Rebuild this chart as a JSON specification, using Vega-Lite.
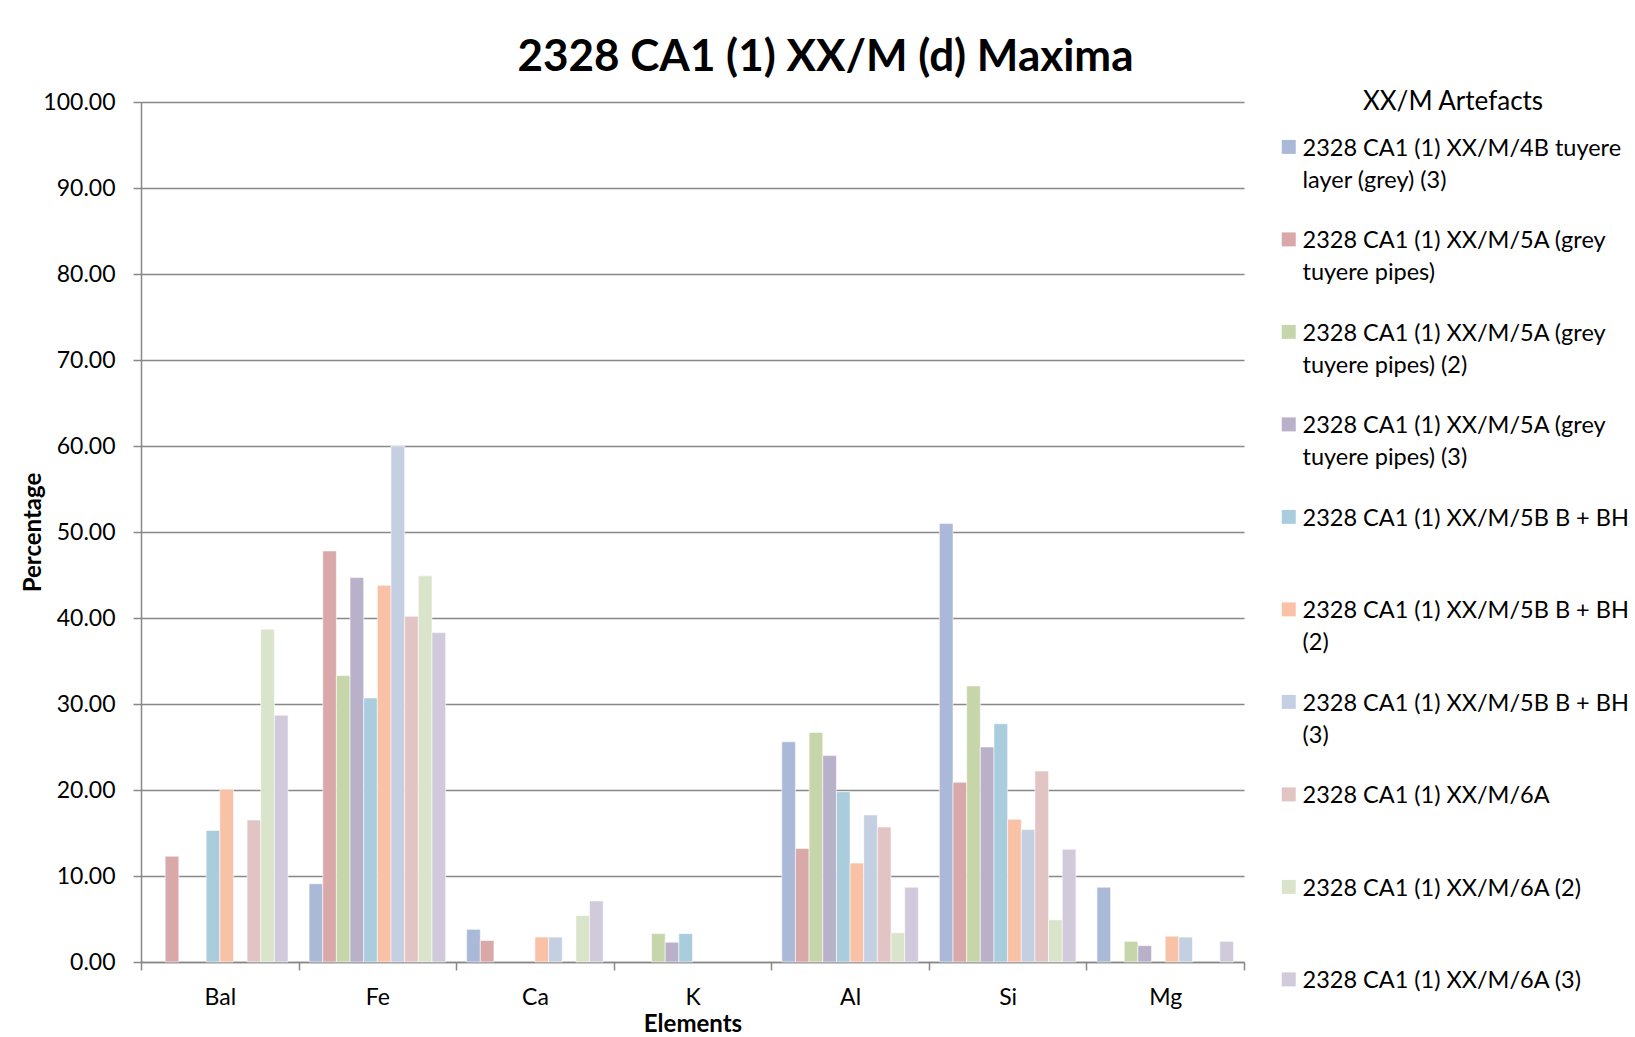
{
  "$schema": "https://vega.github.io/schema/vega-lite/v6.json",
  "autosize": "none",
  "width": 1103,
  "height": 860,
  "padding": {"left": 141, "top": 102, "right": 391, "bottom": 75},
  "background": "white",
  "title": {
    "text": "2328 CA1 (1) XX/M (d) Maxima",
    "font": "Lato",
    "fontSize": 44,
    "fontWeight": "bold",
    "color": "black",
    "anchor": "middle",
    "frame": "group",
    "dx": 133,
    "offset": 9
  },
  "data": {
    "values": [
      {"element": "Bal", "series": "2328 CA1 (1) XX/M/5A (grey tuyere pipes)", "value": 12.3},
      {"element": "Bal", "series": "2328 CA1 (1) XX/M/5B B + BH", "value": 15.3},
      {"element": "Bal", "series": "2328 CA1 (1) XX/M/5B B + BH (2)", "value": 20.1},
      {"element": "Bal", "series": "2328 CA1 (1) XX/M/6A", "value": 16.5},
      {"element": "Bal", "series": "2328 CA1 (1) XX/M/6A (2)", "value": 38.7},
      {"element": "Bal", "series": "2328 CA1 (1) XX/M/6A (3)", "value": 28.7},

      {"element": "Fe", "series": "2328 CA1 (1) XX/M/4B tuyere layer (grey) (3)", "value": 9.1},
      {"element": "Fe", "series": "2328 CA1 (1) XX/M/5A (grey tuyere pipes)", "value": 47.8},
      {"element": "Fe", "series": "2328 CA1 (1) XX/M/5A (grey tuyere pipes) (2)", "value": 33.3},
      {"element": "Fe", "series": "2328 CA1 (1) XX/M/5A (grey tuyere pipes) (3)", "value": 44.7},
      {"element": "Fe", "series": "2328 CA1 (1) XX/M/5B B + BH", "value": 30.7},
      {"element": "Fe", "series": "2328 CA1 (1) XX/M/5B B + BH (2)", "value": 43.8},
      {"element": "Fe", "series": "2328 CA1 (1) XX/M/5B B + BH (3)", "value": 60.0},
      {"element": "Fe", "series": "2328 CA1 (1) XX/M/6A", "value": 40.2},
      {"element": "Fe", "series": "2328 CA1 (1) XX/M/6A (2)", "value": 44.9},
      {"element": "Fe", "series": "2328 CA1 (1) XX/M/6A (3)", "value": 38.3},

      {"element": "Ca", "series": "2328 CA1 (1) XX/M/4B tuyere layer (grey) (3)", "value": 3.8},
      {"element": "Ca", "series": "2328 CA1 (1) XX/M/5A (grey tuyere pipes)", "value": 2.5},
      {"element": "Ca", "series": "2328 CA1 (1) XX/M/5B B + BH (2)", "value": 2.9},
      {"element": "Ca", "series": "2328 CA1 (1) XX/M/5B B + BH (3)", "value": 2.9},
      {"element": "Ca", "series": "2328 CA1 (1) XX/M/6A (2)", "value": 5.4},
      {"element": "Ca", "series": "2328 CA1 (1) XX/M/6A (3)", "value": 7.1},

      {"element": "K", "series": "2328 CA1 (1) XX/M/5A (grey tuyere pipes) (2)", "value": 3.3},
      {"element": "K", "series": "2328 CA1 (1) XX/M/5A (grey tuyere pipes) (3)", "value": 2.3},
      {"element": "K", "series": "2328 CA1 (1) XX/M/5B B + BH", "value": 3.3},

      {"element": "Al", "series": "2328 CA1 (1) XX/M/4B tuyere layer (grey) (3)", "value": 25.6},
      {"element": "Al", "series": "2328 CA1 (1) XX/M/5A (grey tuyere pipes)", "value": 13.2},
      {"element": "Al", "series": "2328 CA1 (1) XX/M/5A (grey tuyere pipes) (2)", "value": 26.7},
      {"element": "Al", "series": "2328 CA1 (1) XX/M/5A (grey tuyere pipes) (3)", "value": 24.0},
      {"element": "Al", "series": "2328 CA1 (1) XX/M/5B B + BH", "value": 19.8},
      {"element": "Al", "series": "2328 CA1 (1) XX/M/5B B + BH (2)", "value": 11.5},
      {"element": "Al", "series": "2328 CA1 (1) XX/M/5B B + BH (3)", "value": 17.1},
      {"element": "Al", "series": "2328 CA1 (1) XX/M/6A", "value": 15.7},
      {"element": "Al", "series": "2328 CA1 (1) XX/M/6A (2)", "value": 3.4},
      {"element": "Al", "series": "2328 CA1 (1) XX/M/6A (3)", "value": 8.7},

      {"element": "Si", "series": "2328 CA1 (1) XX/M/4B tuyere layer (grey) (3)", "value": 51.0},
      {"element": "Si", "series": "2328 CA1 (1) XX/M/5A (grey tuyere pipes)", "value": 20.9},
      {"element": "Si", "series": "2328 CA1 (1) XX/M/5A (grey tuyere pipes) (2)", "value": 32.1},
      {"element": "Si", "series": "2328 CA1 (1) XX/M/5A (grey tuyere pipes) (3)", "value": 25.0},
      {"element": "Si", "series": "2328 CA1 (1) XX/M/5B B + BH", "value": 27.7},
      {"element": "Si", "series": "2328 CA1 (1) XX/M/5B B + BH (2)", "value": 16.6},
      {"element": "Si", "series": "2328 CA1 (1) XX/M/5B B + BH (3)", "value": 15.4},
      {"element": "Si", "series": "2328 CA1 (1) XX/M/6A", "value": 22.2},
      {"element": "Si", "series": "2328 CA1 (1) XX/M/6A (2)", "value": 4.9},
      {"element": "Si", "series": "2328 CA1 (1) XX/M/6A (3)", "value": 13.1},

      {"element": "Mg", "series": "2328 CA1 (1) XX/M/4B tuyere layer (grey) (3)", "value": 8.7},
      {"element": "Mg", "series": "2328 CA1 (1) XX/M/5A (grey tuyere pipes) (2)", "value": 2.4},
      {"element": "Mg", "series": "2328 CA1 (1) XX/M/5A (grey tuyere pipes) (3)", "value": 1.9},
      {"element": "Mg", "series": "2328 CA1 (1) XX/M/5B B + BH (2)", "value": 3.0},
      {"element": "Mg", "series": "2328 CA1 (1) XX/M/5B B + BH (3)", "value": 2.9},
      {"element": "Mg", "series": "2328 CA1 (1) XX/M/6A (3)", "value": 2.4}
    ]
  },
  "mark": {"type": "bar", "stroke": "white", "strokeWidth": 0.8, "strokeOpacity": 0.7},
  "encoding": {
    "x": {
      "field": "element",
      "type": "nominal",
      "sort": ["Bal", "Fe", "Ca", "K", "Al", "Si", "Mg"],
      "scale": {"paddingInner": 0, "paddingOuter": 0},
      "axis": {
        "title": "Elements",
        "titleFont": "Lato",
        "titleFontSize": 24,
        "titleFontWeight": "bold",
        "titleColor": "black",
        "titlePadding": 3,
        "labelFont": "Lato",
        "labelFontSize": 23,
        "labelColor": "black",
        "labelAngle": 0,
        "labelPadding": 16,
        "tickBand": "extent",
        "tickSize": 8,
        "tickColor": "#888888",
        "tickWidth": 1.5,
        "domainColor": "#888888",
        "domainWidth": 1.5,
        "grid": false
      }
    },
    "xOffset": {
      "field": "series",
      "type": "nominal",
      "scale": {
        "domain": [
          "2328 CA1 (1) XX/M/4B tuyere layer (grey) (3)",
          "2328 CA1 (1) XX/M/5A (grey tuyere pipes)",
          "2328 CA1 (1) XX/M/5A (grey tuyere pipes) (2)",
          "2328 CA1 (1) XX/M/5A (grey tuyere pipes) (3)",
          "2328 CA1 (1) XX/M/5B B + BH",
          "2328 CA1 (1) XX/M/5B B + BH (2)",
          "2328 CA1 (1) XX/M/5B B + BH (3)",
          "2328 CA1 (1) XX/M/6A",
          "2328 CA1 (1) XX/M/6A (2)",
          "2328 CA1 (1) XX/M/6A (3)"
        ],
        "paddingInner": 0,
        "paddingOuter": 0.77
      }
    },
    "y": {
      "field": "value",
      "type": "quantitative",
      "scale": {"domain": [0, 100], "nice": false},
      "axis": {
        "title": "Percentage",
        "titleFont": "Lato",
        "titleFontSize": 24,
        "titleFontWeight": "bold",
        "titleColor": "black",
        "titlePadding": -3,
        "labelFont": "Lato",
        "labelFontSize": 23,
        "labelColor": "black",
        "labelPadding": 18,
        "format": ".2f",
        "values": [0, 10, 20, 30, 40, 50, 60, 70, 80, 90, 100],
        "tickSize": 8,
        "tickColor": "#888888",
        "tickWidth": 1.5,
        "domainColor": "#888888",
        "domainWidth": 1.5,
        "grid": true,
        "gridColor": "#888888",
        "gridWidth": 1.5
      }
    },
    "color": {
      "field": "series",
      "type": "nominal",
      "scale": {
        "domain": [
          "2328 CA1 (1) XX/M/4B tuyere layer (grey) (3)",
          "2328 CA1 (1) XX/M/5A (grey tuyere pipes)",
          "2328 CA1 (1) XX/M/5A (grey tuyere pipes) (2)",
          "2328 CA1 (1) XX/M/5A (grey tuyere pipes) (3)",
          "2328 CA1 (1) XX/M/5B B + BH",
          "2328 CA1 (1) XX/M/5B B + BH (2)",
          "2328 CA1 (1) XX/M/5B B + BH (3)",
          "2328 CA1 (1) XX/M/6A",
          "2328 CA1 (1) XX/M/6A (2)",
          "2328 CA1 (1) XX/M/6A (3)"
        ],
        "range": ["#AAB9D7", "#D9A9A9", "#C7D6AA", "#B9B0CA", "#A9CDDC", "#F9C2A6", "#C4CFE2", "#E3C4C5", "#D9E4CA", "#D0CADB"]
      },
      "legend": {
        "title": "XX/M Artefacts",
        "orient": "none",
        "legendX": 1136,
        "legendY": -13,
        "titleFont": "Lato",
        "titleFontSize": 26,
        "titleFontWeight": "normal",
        "titleColor": "black",
        "titleAnchor": "middle",
        "titleLimit": 400,
        "titlePadding": 10,
        "labelFont": "Lato",
        "labelFontSize": 23.5,
        "labelColor": "black",
        "labelBaseline": "top",
        "labelOffset": 2,
        "labelLimit": 400,
        "labelExpr": "length(datum.label) > 28 ? split(replace(datum.label, /^(.{20,27}) /, '$1|'), '|') : [datum.label, ' ']",
        "symbolType": "M-1,0.45L1,0.45L1,2.45L-1,2.45Z",
        "symbolSize": 196,
        "symbolStrokeWidth": 0,
        "rowPadding": 24.5
      }
    }
  },
  "config": {
    "view": {"stroke": null},
    "style": {"guide-label": {"lineHeight": 32}}
  }
}
